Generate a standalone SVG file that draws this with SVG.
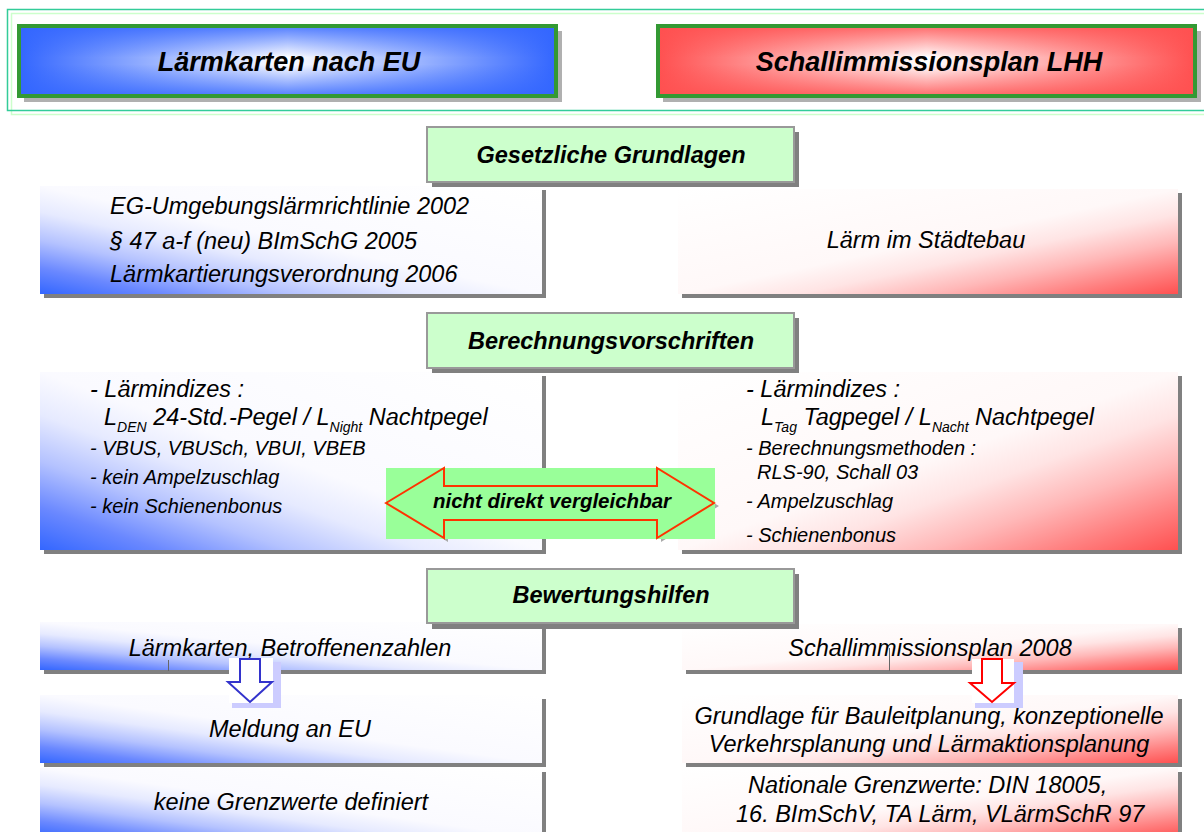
<svg xmlns="http://www.w3.org/2000/svg" width="1204" height="832" viewBox="0 0 1204 832">
<defs>
<linearGradient id="tbH" x1="0" y1="0" x2="1" y2="0"><stop offset="0" stop-color="#3366ff"/><stop offset="0.5" stop-color="#ffffff"/><stop offset="1" stop-color="#3366ff"/></linearGradient>
<linearGradient id="trH" x1="0" y1="0" x2="1" y2="0"><stop offset="0" stop-color="#ff5050"/><stop offset="0.5" stop-color="#ffffff"/><stop offset="1" stop-color="#ff5050"/></linearGradient>
<linearGradient id="tbV" x1="0" y1="0" x2="0" y2="1"><stop offset="0" stop-color="#3366ff" stop-opacity="0.85"/><stop offset="0.45" stop-color="#3366ff" stop-opacity="0"/><stop offset="0.55" stop-color="#3366ff" stop-opacity="0"/><stop offset="1" stop-color="#3366ff" stop-opacity="0.85"/></linearGradient>
<linearGradient id="trV" x1="0" y1="0" x2="0" y2="1"><stop offset="0" stop-color="#ff5050" stop-opacity="0.85"/><stop offset="0.45" stop-color="#ff5050" stop-opacity="0"/><stop offset="0.55" stop-color="#ff5050" stop-opacity="0"/><stop offset="1" stop-color="#ff5050" stop-opacity="0.85"/></linearGradient>
<linearGradient id="gb" x1="0" y1="1" x2="1" y2="0"><stop offset="0" stop-color="#3366ff"/><stop offset="0.12" stop-color="#6a88ff"/><stop offset="0.25" stop-color="#b4c2ff"/><stop offset="0.38" stop-color="#e6eaff"/><stop offset="0.5" stop-color="#fafaff"/><stop offset="1" stop-color="#ffffff"/></linearGradient>
<linearGradient id="gr" x1="1" y1="1" x2="0" y2="0"><stop offset="0" stop-color="#ff5050"/><stop offset="0.12" stop-color="#ff8080"/><stop offset="0.25" stop-color="#ffb8b8"/><stop offset="0.38" stop-color="#ffe4e4"/><stop offset="0.5" stop-color="#fff8f8"/><stop offset="1" stop-color="#ffffff"/></linearGradient>
</defs>
<style>
text{font-family:"Liberation Sans",Arial,sans-serif;font-style:italic;fill:#000}
.title{font-size:27px;font-weight:bold;text-anchor:middle}
.hdr{font-size:23.5px;font-weight:bold;text-anchor:middle}
.big{font-size:23.5px}
.sm{font-size:20px}
.mid{text-anchor:middle}
.sub{font-size:14px}
.shadow{fill:#808080}
.hbox{fill:#ccffcc;stroke:#999999;stroke-width:2}
.tshadow{fill:#b0b0b0}
.tborder{stroke:#339933;stroke-width:4}
</style>
<rect width="1204" height="832" fill="#ffffff"/>
<g id="frame">
<rect x="11.5" y="13.5" width="1210" height="101" fill="none" stroke="#ccffcc" stroke-width="1.5"/>
<rect x="7.5" y="9.5" width="1210" height="101" fill="none" stroke="#33cc99" stroke-width="1.5"/>
</g>
<g id="title-eu">
<rect x="24" y="31" width="538" height="71" class="tshadow"/>
<rect x="19" y="26" width="537" height="70" fill="url(#tbH)"/>
<rect x="19" y="26" width="537" height="70" fill="url(#tbV)" class="tborder"/>
<text x="289" y="71" class="title">Lärmkarten nach EU</text>
</g>
<g id="title-lhh">
<rect x="663" y="31" width="538" height="71" class="tshadow"/>
<rect x="658" y="26" width="537" height="70" fill="url(#trH)"/>
<rect x="658" y="26" width="537" height="70" fill="url(#trV)" class="tborder"/>
<text x="929" y="71" class="title">Schallimmissionsplan LHH</text>
</g>
<g id="eu-grundlagen">
<rect x="44" y="190" width="502" height="108" class="shadow"/>
<rect x="40" y="186" width="502" height="108" fill="url(#gb)"/>
<text x="110" y="214" class="big">EG-Umgebungslärmrichtlinie 2002</text>
<text x="110" y="249" class="big">§ 47 a-f (neu) BImSchG 2005</text>
<text x="110" y="282" class="big">Lärmkartierungsverordnung 2006</text>
</g>
<g id="lhh-grundlagen">
<rect x="682" y="193" width="500" height="105" class="shadow"/>
<rect x="678" y="189" width="500" height="105" fill="url(#gr)"/>
<text x="926" y="248" class="big mid">Lärm im Städtebau</text>
</g>
<g id="eu-berechnung">
<rect x="44" y="376" width="502" height="178" class="shadow"/>
<rect x="40" y="372" width="502" height="178" fill="url(#gb)"/>
<text x="90" y="397" class="big">- Lärmindizes :</text>
<text x="104" y="425" class="big">L<tspan class="sub" dy="7">DEN</tspan><tspan dy="-7"> 24-Std.-Pegel / L</tspan><tspan class="sub" dy="7">Night</tspan><tspan dy="-7"> Nachtpegel</tspan></text>
<text x="90" y="455" class="sm">- VBUS, VBUSch, VBUI, VBEB</text>
<text x="90" y="484" class="sm">- kein Ampelzuschlag</text>
<text x="90" y="513" class="sm">- kein Schienenbonus</text>
</g>
<g id="lhh-berechnung">
<rect x="682" y="376" width="500" height="178" class="shadow"/>
<rect x="678" y="372" width="500" height="178" fill="url(#gr)"/>
<text x="746" y="397" class="big">- Lärmindizes :</text>
<text x="761" y="425" class="big">L<tspan class="sub" dy="7">Tag</tspan><tspan dy="-7"> Tagpegel / L</tspan><tspan class="sub" dy="7">Nacht</tspan><tspan dy="-7"> Nachtpegel</tspan></text>
<text x="746" y="455" class="sm">- Berechnungsmethoden :</text>
<text x="757" y="479" class="sm">RLS-90, Schall 03</text>
<text x="746" y="508" class="sm">- Ampelzuschlag</text>
<text x="746" y="542" class="sm">- Schienenbonus</text>
</g>
<g id="eu-laermkarten">
<rect x="44" y="626" width="502" height="48" class="shadow"/>
<rect x="40" y="622" width="502" height="48" fill="url(#gb)"/>
<text x="290" y="656" class="big mid">Lärmkarten, Betroffenenzahlen</text>
</g>
<g id="eu-meldung">
<rect x="44" y="699" width="502" height="68" class="shadow"/>
<rect x="40" y="695" width="502" height="68" fill="url(#gb)"/>
<text x="290" y="737" class="big mid">Meldung an EU</text>
</g>
<g id="eu-grenzwerte">
<rect x="44" y="772" width="502" height="70" class="shadow"/>
<rect x="40" y="768" width="502" height="70" fill="url(#gb)"/>
<text x="291" y="810" class="big mid">keine Grenzwerte definiert</text>
</g>
<g id="lhh-plan2008">
<rect x="686" y="628" width="496" height="46" class="shadow"/>
<rect x="682" y="624" width="496" height="46" fill="url(#gr)"/>
<text x="930" y="656" class="big mid">Schallimmissionsplan 2008</text>
</g>
<g id="lhh-grundlage">
<rect x="686" y="699" width="496" height="68" class="shadow"/>
<rect x="682" y="695" width="496" height="68" fill="url(#gr)"/>
<text x="929" y="724" class="big mid">Grundlage für Bauleitplanung, konzeptionelle</text>
<text x="929" y="752" class="big mid">Verkehrsplanung und Lärmaktionsplanung</text>
</g>
<g id="lhh-grenzwerte">
<rect x="686" y="772" width="496" height="70" class="shadow"/>
<rect x="682" y="768" width="496" height="70" fill="url(#gr)"/>
<text x="748" y="793" class="big">Nationale Grenzwerte: DIN 18005,</text>
<text x="736" y="822" class="big">16. BImSchV, TA Lärm, VLärmSchR 97</text>
</g>
<g id="hdr-gesetzliche">
<rect x="432" y="132" width="367" height="55" class="shadow"/>
<rect x="427" y="127" width="367" height="55" class="hbox"/>
<text x="611" y="163" class="hdr">Gesetzliche Grundlagen</text>
</g>
<g id="hdr-berechnung">
<rect x="432" y="318" width="367" height="55" class="shadow"/>
<rect x="427" y="313" width="367" height="55" class="hbox"/>
<text x="611" y="349" class="hdr">Berechnungsvorschriften</text>
</g>
<g id="hdr-bewertung">
<rect x="432" y="574" width="367" height="55" class="shadow"/>
<rect x="427" y="569" width="367" height="54" class="hbox"/>
<text x="611" y="603" class="hdr">Bewertungshilfen</text>
</g>
<g id="connectors">
<line x1="168.5" y1="660" x2="168.5" y2="671" stroke="#666666" stroke-width="1"/>
<line x1="889.5" y1="648" x2="889.5" y2="671" stroke="#666666" stroke-width="1"/>
<g id="double-arrow">
<polygon points="390,506 448,472 448,490 661,490 661,472 719,506 661,542 661,524 448,524 448,542" fill="#aaaaaa"/>
<rect x="386" y="468" width="329" height="71" fill="#99ff99"/>
<polygon points="386,503 444,468 444,486 657,486 657,468 714,503 657,538 657,520 444,520 444,538" fill="none" stroke="#ff3300" stroke-width="2"/>
<text x="552" y="508" class="mid" style="font-size:20.5px;font-weight:bold">nicht direkt vergleichbar</text>
</g>
<g id="arrow-eu">
<rect x="232" y="662" width="49" height="46" fill="#ccccff"/>
<rect x="229" y="658" width="44" height="45" fill="#ffffff"/>
<polygon points="240,659 260,659 260,682 272,682 250,702 228,682 240,682" fill="#ffffff" stroke="#3333cc" stroke-width="2"/>
</g>
<g id="arrow-lhh">
<rect x="975" y="662" width="48" height="46" fill="#ccccff"/>
<rect x="972" y="659" width="42" height="44" fill="#ffffff"/>
<polygon points="982,659 1002,659 1002,683 1014,683 992,702 970,683 982,683" fill="#ffffff" stroke="#ff0000" stroke-width="2"/>
</g>
</g>
</svg>
